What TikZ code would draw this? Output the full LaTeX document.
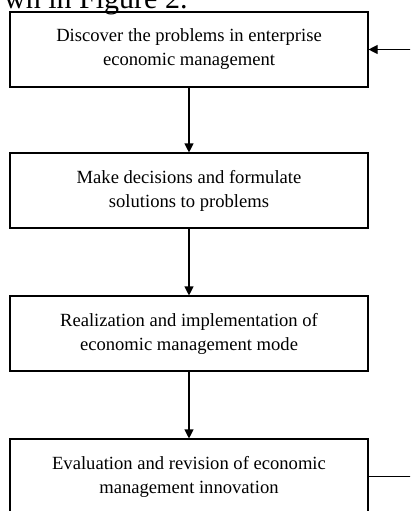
\documentclass[tikz,border=0pt]{standalone}
\usepackage{fontspec}
\setmainfont{Liberation Serif}
\usetikzlibrary{arrows.meta}

\tikzset{
  stagebox/.style={draw, line width=1.1pt, minimum width=358pt, minimum height=75pt,
    align=center, inner sep=0pt, font=\fontsize{18.6}{24}\selectfont},
  flow/.style={line width=1.1pt, -{Triangle[length=9pt,width=9pt]}},
}

\begin{document}
\begin{tikzpicture}[x=1pt,y=-1pt]
  \useasboundingbox (0,0) rectangle (410,511);
  \clip (0,0) rectangle (410,511);
  \fill[white] (0,0) rectangle (410,511);

  % tail of the sentence above the figure
  \node[anchor=base west, inner sep=0pt, font=\fontsize{30}{34}\selectfont] (caption) at (4,9) {wn in Figure 2.};

  % the four stages of the cycle
  \node[stagebox] (b1) at (189,49.5)  {Discover the problems in enterprise\\economic management};
  \node[stagebox] (b2) at (189,190.5) {Make decisions and formulate\\solutions to problems};
  \node[stagebox] (b3) at (189,333.5) {Realization and implementation of\\economic management mode};
  \node[stagebox] (b4) at (189,476.5) {Evaluation and revision of economic\\management innovation};

  \draw[flow] (b1) -- (b2);
  \draw[flow] (b2) -- (b3);
  \draw[flow] (b3) -- (b4);

  % feedback loop back to the first stage
  \coordinate (r4) at (420,476.5);
  \coordinate (r1) at (420,49.5);
  \draw[flow] (b4.east) -- (r4) -- (r1) -- (b1.east);
\end{tikzpicture}
\end{document}
